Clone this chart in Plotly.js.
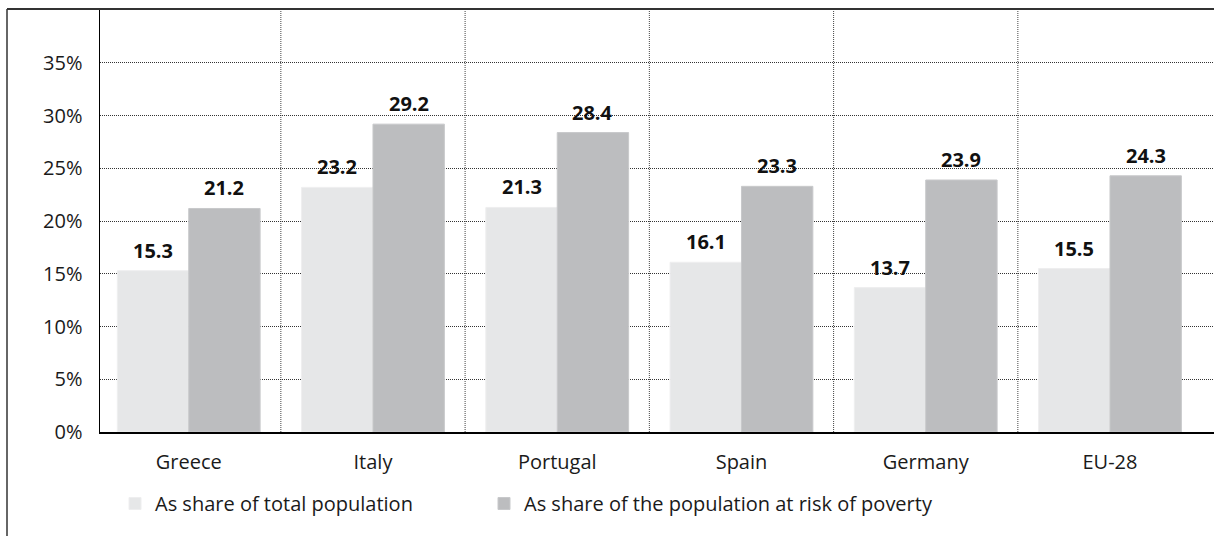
<!DOCTYPE html>
<html>
<head>
<meta charset="utf-8">
<script src="https://cdn.plot.ly/plotly-3.0.1.min.js"></script>
<style>
  html, body { margin: 0; padding: 0; background: #ffffff; }
  #chart { width: 1214px; height: 536px; }
</style>
</head>
<body>
<div id="chart"></div>
<script>
// ---- data ----
const countries = ["Greece", "Italy", "Portugal", "Spain", "Germany", "EU-28"];
const shareTotal = [15.3, 23.2, 21.3, 16.1, 13.7, 15.5];
const shareRisk = [21.2, 29.2, 28.4, 23.3, 23.9, 24.3];
const seriesNames = ["As share of total population", "As share of the population at risk of poverty"];
const yTickVals = [0, 5, 10, 15, 20, 25, 30, 35];
const yTickText = ["0%", "5%", "10%", "15%", "20%", "25%", "30%", "35%"];

// ---- layout params ----
const W = 1214, H = 536;
const M = { l: 100, r: 0, t: 9, b: 104 };
const plotW = W - M.l - M.r, plotH = H - M.t - M.b;
const catPx = 184.25;
const xStart = -0.5 + 3.4 / catPx;
const bargap = 0.225;
const barW = (1 - bargap) / 2;
const FONT = "Open Sans, sans-serif";
const px2paperX = p => (p - M.l) / plotW;
const px2paperY = p => (H - M.b - p) / plotH;

const traces = [
  {
    type: "bar", name: seriesNames[0], x: countries, y: shareTotal,
    marker: { color: "#e6e7e8", line: { color: "#eeeeef", width: 1 } },
    legend: "legend", hoverinfo: "x+y"
  },
  {
    type: "bar", name: seriesNames[1], x: countries, y: shareRisk,
    marker: { color: "#bcbdbf", line: { color: "#c8c9cb", width: 1 } },
    legend: "legend2", hoverinfo: "x+y"
  }
];

// value labels (annotations placed on each bar through the axes)
const annotations = [];
[shareTotal, shareRisk].forEach((arr, s) => {
  arr.forEach((v, i) => {
    annotations.push({
      x: i + (s === 0 ? -barW / 2 : barW / 2), y: v,
      xref: "x", yref: "y",
      text: v.toFixed(1), showarrow: false,
      yanchor: "bottom", xanchor: "center", yshift: 5,
      font: { family: FONT, size: 20, color: "#111111", weight: 700 }
    });
  });
});

// vertical dotted separators between categories
const shapes = [];
for (let i = 0; i < countries.length - 1; i++) {
  shapes.push({
    type: "line", xref: "x", yref: "paper",
    x0: i + 0.5, x1: i + 0.5, y0: 0, y1: 1,
    line: { color: "#444444", width: 1, dash: "1px,1px" }, layer: "below"
  });
}
// outer frame (left + top)
shapes.push({
  type: "line", xref: "paper", yref: "paper",
  x0: px2paperX(7), x1: px2paperX(7), y0: px2paperY(9), y1: px2paperY(540),
  line: { color: "#333333", width: 1.5 }
});
shapes.push({
  type: "line", xref: "paper", yref: "paper",
  x0: px2paperX(7), x1: px2paperX(1216), y0: 1, y1: 1,
  line: { color: "#333333", width: 2 }
});

const legendBase = {
  orientation: "h", xanchor: "left",
  y: px2paperY(484), yanchor: "top",
  font: { family: FONT, size: 20, color: "#1a1a1a" },
  bgcolor: "rgba(0,0,0,0)"
};

const layout = {
  width: W, height: H,
  margin: M,
  paper_bgcolor: "#ffffff", plot_bgcolor: "#ffffff",
  font: { family: FONT, size: 20, color: "#1a1a1a" },
  barmode: "group", bargap: bargap, bargroupgap: 0,
  showlegend: true,
  legend: Object.assign({}, legendBase, { x: px2paperX(115) }),
  legend2: Object.assign({}, legendBase, { x: px2paperX(484) }),
  xaxis: {
    type: "category", range: [xStart, xStart + plotW / catPx],
    showgrid: false, zeroline: false,
    showline: true, linecolor: "#000000", linewidth: 2,
    ticks: "", ticklabelstandoff: 11,
    tickfont: { family: FONT, size: 20, color: "#1a1a1a" },
    fixedrange: true
  },
  yaxis: {
    range: [0, 40.12], tickvals: yTickVals, ticktext: yTickText,
    showgrid: true, gridcolor: "#333333", gridwidth: 1, griddash: "1px,1px",
    zeroline: false, showline: true, linecolor: "#000000", linewidth: 1.5,
    ticks: "", ticklabelstandoff: 12,
    tickfont: { family: FONT, size: 20, color: "#1a1a1a" },
    fixedrange: true
  },
  annotations: annotations,
  shapes: shapes
};

Plotly.newPlot("chart", traces, layout, { displayModeBar: false, staticPlot: true });
</script>
</body>
</html>
